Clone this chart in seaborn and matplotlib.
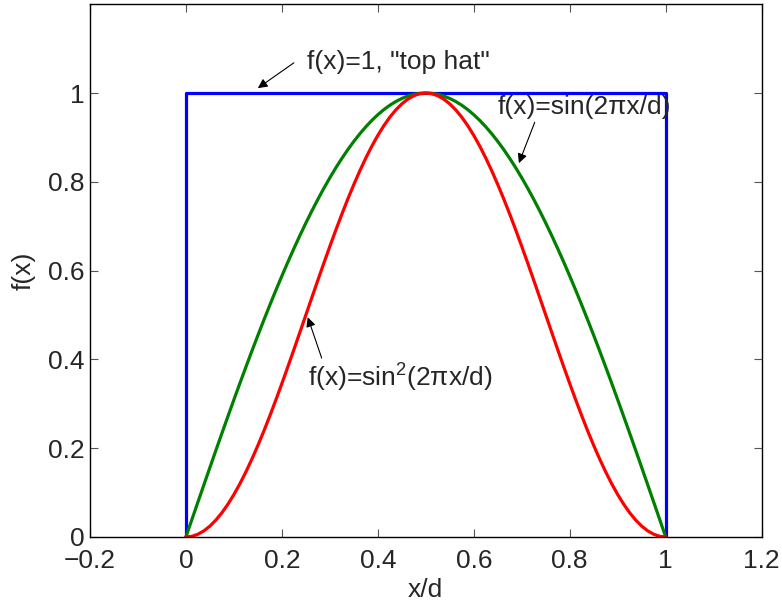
import matplotlib
matplotlib.use("Agg")
import matplotlib.pyplot as plt
import seaborn as sns
import pandas as pd

# ---- data ----
x_curve = [0.0, 0.0125, 0.025, 0.0375, 0.05, 0.0625, 0.075, 0.0875, 0.1, 0.1125,
           0.125, 0.1375, 0.15, 0.1625, 0.175, 0.1875, 0.2, 0.2125, 0.225, 0.2375,
           0.25, 0.2625, 0.275, 0.2875, 0.3, 0.3125, 0.325, 0.3375, 0.35, 0.3625,
           0.375, 0.3875, 0.4, 0.4125, 0.425, 0.4375, 0.45, 0.4625, 0.475, 0.4875,
           0.5, 0.5125, 0.525, 0.5375, 0.55, 0.5625, 0.575, 0.5875, 0.6, 0.6125,
           0.625, 0.6375, 0.65, 0.6625, 0.675, 0.6875, 0.7, 0.7125, 0.725, 0.7375,
           0.75, 0.7625, 0.775, 0.7875, 0.8, 0.8125, 0.825, 0.8375, 0.85, 0.8625,
           0.875, 0.8875, 0.9, 0.9125, 0.925, 0.9375, 0.95, 0.9625, 0.975, 0.9875, 1.0]
sin_vals = [0.0, 0.0393, 0.0785, 0.1175, 0.1564, 0.1951, 0.2334, 0.2714, 0.3090, 0.3461,
            0.3827, 0.4187, 0.4540, 0.4886, 0.5225, 0.5556, 0.5878, 0.6191, 0.6494, 0.6788,
            0.7071, 0.7343, 0.7604, 0.7853, 0.8090, 0.8315, 0.8526, 0.8725, 0.8910, 0.9081,
            0.9239, 0.9382, 0.9511, 0.9625, 0.9724, 0.9808, 0.9877, 0.9931, 0.9969, 0.9992,
            1.0,
            0.9992, 0.9969, 0.9931, 0.9877, 0.9808, 0.9724, 0.9625, 0.9511, 0.9382, 0.9239,
            0.9081, 0.8910, 0.8725, 0.8526, 0.8315, 0.8090, 0.7853, 0.7604, 0.7343, 0.7071,
            0.6788, 0.6494, 0.6191, 0.5878, 0.5556, 0.5225, 0.4886, 0.4540, 0.4187, 0.3827,
            0.3461, 0.3090, 0.2714, 0.2334, 0.1951, 0.1564, 0.1175, 0.0785, 0.0393, 0.0]
sin2_vals = [0.0, 0.0015, 0.0062, 0.0138, 0.0245, 0.0381, 0.0545, 0.0737, 0.0955, 0.1198,
             0.1464, 0.1753, 0.2061, 0.2387, 0.2730, 0.3087, 0.3455, 0.3833, 0.4218, 0.4608,
             0.5, 0.5392, 0.5782, 0.6167, 0.6545, 0.6913, 0.7270, 0.7613, 0.7939, 0.8247,
             0.8536, 0.8802, 0.9045, 0.9263, 0.9455, 0.9619, 0.9755, 0.9862, 0.9938, 0.9985,
             1.0,
             0.9985, 0.9938, 0.9862, 0.9755, 0.9619, 0.9455, 0.9263, 0.9045, 0.8802, 0.8536,
             0.8247, 0.7939, 0.7613, 0.7270, 0.6913, 0.6545, 0.6167, 0.5782, 0.5392, 0.5,
             0.4608, 0.4218, 0.3833, 0.3455, 0.3087, 0.2730, 0.2387, 0.2061, 0.1753, 0.1464,
             0.1198, 0.0955, 0.0737, 0.0545, 0.0381, 0.0245, 0.0138, 0.0062, 0.0015, 0.0]
x_hat = [0.0, 0.0, 1.0, 1.0]
y_hat = [0.0, 1.0, 1.0, 0.0]

x_ticks = [-0.2, 0, 0.2, 0.4, 0.6, 0.8, 1, 1.2]
x_tick_labels = ["\u22120.2", "0", "0.2", "0.4", "0.6", "0.8", "1", "1.2"]
y_ticks = [0, 0.2, 0.4, 0.6, 0.8, 1]
y_tick_labels = ["0", "0.2", "0.4", "0.6", "0.8", "1"]

label_hat = 'f(x)=1, "top hat"'
label_sin = "f(x)=sin(2\u03c0x/d)"
label_sin2 = "f(x)=sin$^2$(2\u03c0x/d)"

sns.set_style("ticks")
plt.rcParams["font.family"] = ["Liberation Sans", "DejaVu Sans"]
plt.rcParams["mathtext.fontset"] = "custom"
plt.rcParams["mathtext.rm"] = "Liberation Sans"
plt.rcParams["mathtext.it"] = "Liberation Sans"

fig = plt.figure(figsize=(7.82, 6.01), dpi=100)
ax = fig.add_axes([0.115, 0.1065, 0.859, 0.8865])

df_hat = pd.DataFrame({"x": x_hat, "y": y_hat})
df_sin = pd.DataFrame({"x": x_curve, "y": sin_vals})
df_sin2 = pd.DataFrame({"x": x_curve, "y": sin2_vals})

lw = 2.3
sns.lineplot(data=df_hat, x="x", y="y", sort=False, estimator=None, color=(0, 0, 1), lw=lw, ax=ax)
sns.lineplot(data=df_sin, x="x", y="y", sort=False, estimator=None, color=(0, 0.5, 0), lw=lw, ax=ax)
sns.lineplot(data=df_sin2, x="x", y="y", sort=False, estimator=None, color=(1, 0, 0), lw=lw, ax=ax)

fs = 19
ax.set_xlim(-0.2, 1.2)
ax.set_ylim(0, 1.2)
ax.set_xticks(x_ticks)
ax.set_xticklabels(x_tick_labels)
ax.set_yticks(y_ticks)
ax.set_yticklabels(y_tick_labels)
ax.tick_params(direction="in", length=6, width=0.8, top=True, right=True,
               labelsize=fs, color="#555555")
ax.tick_params(axis="x", pad=9)
ax.tick_params(axis="y", pad=4)
for s in ax.spines.values():
    s.set_visible(True)
    s.set_linewidth(1.0)
    s.set_color("black")

ax.set_xlabel("x/d", fontsize=fs, labelpad=3)
ax.set_ylabel("f(x)", fontsize=fs, labelpad=9)

arrow = dict(arrowstyle="-|>", color="black", lw=0.8, mutation_scale=14, shrinkA=0, shrinkB=0)
ax.annotate("", xy=(0.150, 1.011), xytext=(0.225, 1.068), arrowprops=arrow)
ax.text(0.252, 1.07, label_hat, fontsize=fs, ha="left", va="center")
ax.annotate("", xy=(0.694, 0.842), xytext=(0.727, 0.934), arrowprops=arrow)
ax.text(0.650, 0.968, label_sin, fontsize=fs, ha="left", va="center")
ax.annotate("", xy=(0.254, 0.495), xytext=(0.283, 0.403), arrowprops=arrow)
ax.text(0.254, 0.358, label_sin2, fontsize=fs, ha="left", va="center")

fig.savefig("out.png", dpi=100)
